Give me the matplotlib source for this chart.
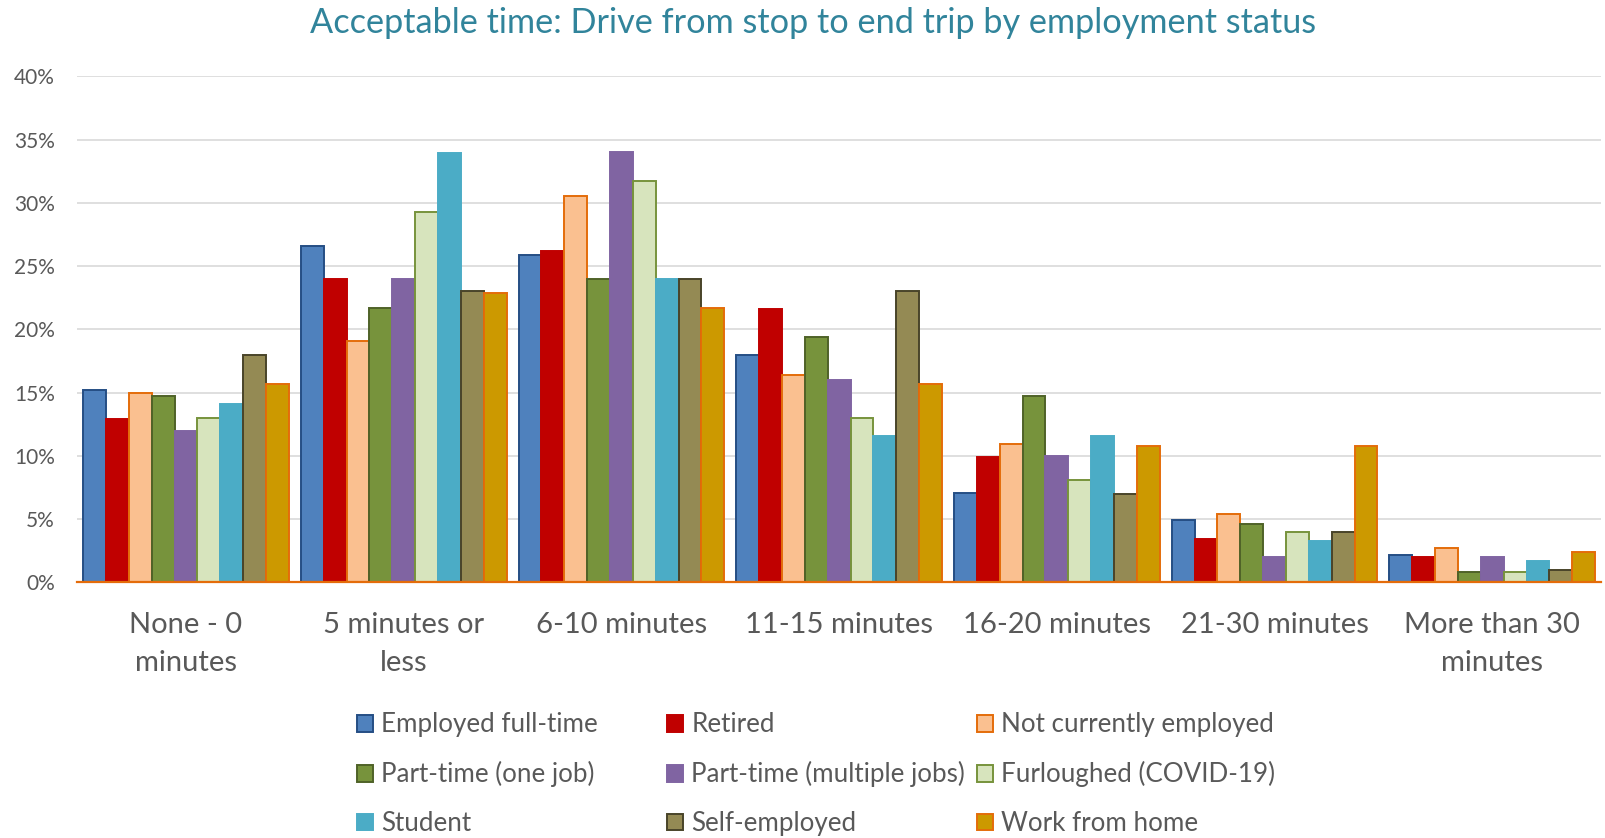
import numpy as np
import matplotlib
matplotlib.use('Agg')
import matplotlib.pyplot as plt

plt.rcParams['font.family'] = ['Lato', 'DejaVu Sans']

categories = ['None - 0\nminutes', '5 minutes or\nless', '6-10 minutes', '11-15 minutes',
              '16-20 minutes', '21-30 minutes', 'More than 30\nminutes']

employed_full = [15.2, 26.6, 25.9, 18.0, 7.1, 4.9, 2.2]
retired = [12.9, 24.0, 26.2, 21.6, 9.9, 3.4, 2.0]
not_employed = [15.0, 19.1, 30.5, 16.4, 10.9, 5.4, 2.7]
part_one = [14.7, 21.7, 24.0, 19.4, 14.7, 4.6, 0.8]
part_multi = [12.0, 24.0, 34.0, 16.0, 10.0, 2.0, 2.0]
furloughed = [13.0, 29.3, 31.7, 13.0, 8.1, 4.0, 0.8]
student = [14.1, 33.9, 24.0, 11.6, 11.6, 3.3, 1.7]
self_employed = [18.0, 23.0, 24.0, 23.0, 7.0, 4.0, 1.0]
work_home = [15.7, 22.9, 21.7, 15.7, 10.8, 10.8, 2.4]

series = ['Employed full-time', 'Retired', 'Not currently employed',
          'Part-time (one job)', 'Part-time (multiple jobs)', 'Furloughed (COVID-19)',
          'Student', 'Self-employed', 'Work from home']
values = [employed_full, retired, not_employed, part_one, part_multi,
          furloughed, student, self_employed, work_home]

fills = ['#4F81BD', '#C00000', '#FAC090', '#77933C', '#8064A2',
         '#D7E4BD', '#4BACC6', '#948A54', '#CC9900']
edges = ['#254E84', '#C00000', '#E46C0A', '#4F6228', '#8064A2',
         '#77933C', '#4BACC6', '#494429', '#E46C0A']

text_col = '#595959'

fig = plt.figure(figsize=(16.06, 8.38), dpi=100)
ax = fig.add_axes([0.048, 0.305, 0.949, 0.604])

x = np.arange(len(categories))
w = 0.105
bars = []
for j in range(len(series)):
    b = ax.bar(x + (j - 4) * w, np.array(values[j]) / 100, w,
               color=fills[j], edgecolor=edges[j], linewidth=1.4,
               label=series[j], zorder=3)
    bars.append(b)

ax.set_xlim(-0.5, 6.5)
ax.set_ylim(0, 0.40)
ax.set_yticks(np.arange(0, 0.41, 0.05))
ax.set_yticklabels([f'{int(round(v * 100))}%' for v in np.arange(0, 0.41, 0.05)])
ax.set_xticks(x)
ax.set_xticklabels(categories, linespacing=1.56)

ax.tick_params(axis='y', length=0, pad=16, labelsize=15, labelcolor=text_col)
ax.tick_params(axis='x', length=0, pad=21.5, labelsize=21, labelcolor=text_col)
ax.grid(axis='y', color='#D9D9D9', linewidth=1.2, zorder=0)

for s in ['top', 'right', 'left']:
    ax.spines[s].set_visible(False)
ax.spines['bottom'].set_color('#E46C0A')
ax.spines['bottom'].set_linewidth(1.6)
ax.spines['bottom'].set_zorder(4)

fig.text(0.506, 0.9606, 'Acceptable time: Drive from stop to end trip by employment status',
         ha='center', va='baseline', fontsize=24.7, color='#31849B')

# legend: three columns, filled row by row
col_x = [0.2225, 0.4155, 0.6085]
for c in range(3):
    idx = [c, c + 3, c + 6]
    fig.legend([bars[i] for i in idx], [series[i] for i in idx],
               loc='upper left', bbox_to_anchor=(col_x[c], 0.150),
               frameon=False, fontsize=18.7, labelcolor=text_col,
               handlelength=0.62, handleheight=0.62, handletextpad=0.3,
               labelspacing=0.92, borderpad=0, borderaxespad=0)

fig.savefig('out.png', dpi=100)
